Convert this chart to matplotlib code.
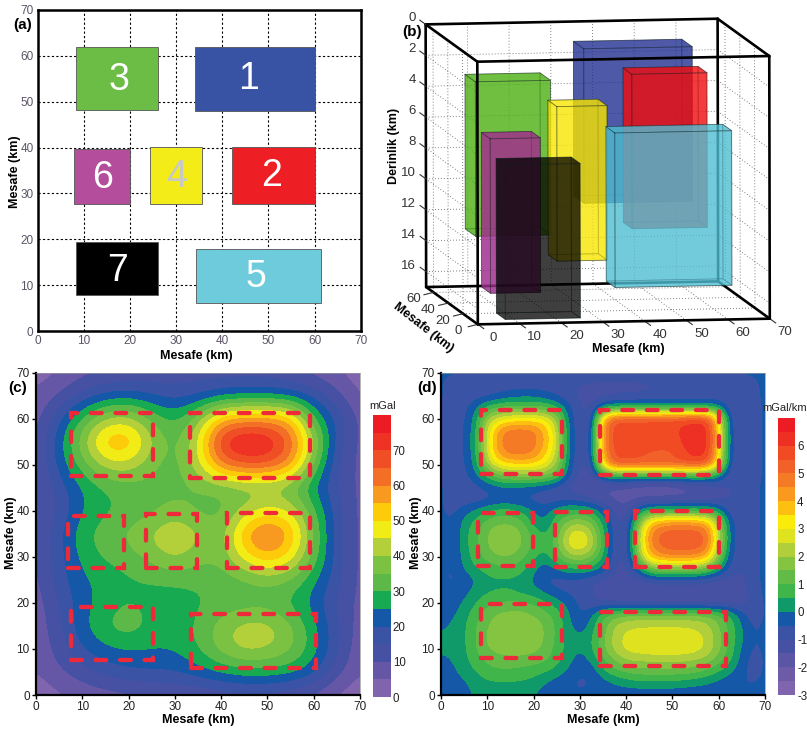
import numpy as np
import matplotlib
matplotlib.use("Agg")
import matplotlib.pyplot as plt
from matplotlib.cm import ScalarMappable
from matplotlib.colors import BoundaryNorm, ListedColormap
from matplotlib.patches import Rectangle

plt.rcParams['font.family'] = ['Liberation Sans', 'DejaVu Sans']

# model blocks: x0, x1, y0, y1 in km (plan view, panel a)
block_names = ['3', '1', '6', '4', '2', '7', '5']
block_colors = ['#6cbd45', '#3953a4', '#b44e9c', '#f3ec19', '#ed1f24', '#000000', '#6dcbdc']
block_text = ['white', 'white', 'white', '#c9c9c4', 'white', 'white', 'white']
block_label_x = [17.6, 45.8, 14.0, 30.0, 50.6, 17.4, 47.3]
block_label_y = [54.7, 54.9, 33.4, 33.6, 33.8, 13.1, 11.8]
blocks_a = [(8.4, 26.0, 48.1, 62.0), (34.1, 60.0, 48.0, 61.9), (7.8, 19.9, 27.8, 39.6), (24.4, 35.7, 27.8, 40.1),
            (42.1, 60.1, 27.8, 40.1), (8.4, 26.1, 7.8, 19.5), (34.3, 61.3, 6.2, 17.8)]
blocks_c = [(7.6, 25.2, 47.6, 61.3), (33.3, 59.2, 47.2, 61.2), (7.0, 19.0, 27.5, 38.9), (23.7, 34.7, 27.5, 39.3),
            (41.2, 59.2, 27.5, 39.6), (7.6, 25.2, 7.6, 19.2), (33.4, 60.4, 5.9, 17.5)]
blocks_d = [(8.6, 26.2, 48.1, 61.9), (34.3, 60.0, 47.7, 61.9), (8.0, 19.9, 28.0, 39.5), (24.7, 35.8, 27.9, 39.8),
            (42.0, 60.1, 27.9, 40.0), (8.6, 26.2, 8.0, 19.7), (34.4, 61.5, 6.4, 18.0)]

# 3D prisms, back to front: x0, x1, y0, y1, top, bottom (km)
prisms = [(34, 60, 48, 62, 1, 11), (8, 26, 48, 62, 3, 13), (42, 60, 28, 40, 2, 12), (8, 20, 28, 40, 6, 16),
          (24, 36, 28, 40, 4, 14), (8, 26, 8, 20, 7, 17), (34, 62, 6, 18, 5, 15)]
prism_colors = ['#212f92', '#4cb010', '#f40b0b', '#a12e8d', '#f8e600', '#000000', '#4fbed3']
prism_alpha = [0.55, 0.55, 0.55, 0.6, 0.55, 0.5, 0.55]

# gravity map (c), mGal, rows from y=70 down to y=0, columns x=0..70, step 5 km
gravity = [
    [2, 5, 8, 9, 10, 11, 12, 12, 12, 12, 12, 10, 8, 5, 2],
    [6, 10, 16, 21, 22, 20, 17, 19, 22, 23, 23, 22, 18, 12, 4],
    [7, 19, 31, 41, 43, 34, 28, 38, 55, 58, 58, 56, 30, 19, 8],
    [9, 23, 39, 56, 57, 41, 32, 45, 73, 80, 78, 66, 42, 17, 8],
    [9, 22, 33, 43, 44, 36, 32, 43, 62, 67, 67, 60, 35, 15, 8],
    [9, 17, 25, 30, 32, 33, 33, 35, 35, 36, 36, 34, 24, 15, 8],
    [9, 15, 25, 29, 31, 33, 37.5, 33, 33, 41, 47, 45, 32, 17, 8],
    [9, 19, 29, 33, 36.5, 41.5, 46, 41.5, 35, 57, 66, 57, 35, 17, 8],
    [9, 18, 27, 31, 33, 37, 42, 37, 36, 48, 56, 49, 34, 17, 8],
    [8, 18, 24, 27, 29, 30, 31, 31, 32, 34, 36, 35, 26, 17, 8],
    [7, 15, 23, 27, 30.5, 28, 27, 29, 31, 31.5, 32, 28, 23, 14, 8],
    [6, 14, 24, 31, 34, 29, 27, 31, 38, 43, 43, 37, 27, 16, 7],
    [6, 12, 20, 24, 25.5, 25, 25.5, 30, 38, 43, 41.5, 37, 28, 16, 6],
    [5, 9, 13, 17, 19, 20, 20, 23, 26, 28, 28, 27, 22, 12, 5],
    [1, 4, 6, 7, 8, 9, 9, 10, 11, 12, 12, 10, 8, 4, 1],
]

# gradient map (d), mGal/km, rows from y=70 down to y=0, columns x=0..70, step 2.5 km
gradient = [
    [-.4] * 29,
    [-.4, -.8, -.9, -.9, -.9, -.8, -.8, -.8, -.8, -.8, -.8, -.9, -1, -1.1, -1.2, -1.2, -1.2, -1.2, -1.1, -1.1, -1, -1, -1, -1, -1, -1, -.9, -.6, -.4],
    [-.4, -.8, -.9, -.8, -.7, -.5, -.3, -.2, -.2, -.4, -.6, -.9, -1.1, -1.2, -1.2, -1.1, -1, -1, -.9, -.9, -.9, -.9, -.9, -.9, -.9, -.9, -.9, -.6, -.4],
    [-.4, -.9, -.7, -.1, .6, .9, 1, 1, 1, .9, .5, -.3, -1, -1.1, -.1, .1, .1, .1, .1, .1, .1, .1, .1, .1, 0, -.9, -1, -.7, -.4],
    [-.4, -.9, -.6, .2, 2, 2.7, 3, 3.1, 3.1, 3, 2, -.1, -1, -1.1, 4, 5.6, 5.6, 5.6, 5.7, 5.7, 5.8, 5.9, 6, 5.9, 3.3, -.8, -1, -.7, -.4],
    [-.4, -.9, -.5, .3, 2.6, 4.3, 4.8, 4.8, 4.7, 3.9, 2.5, 0, -1, -.8, 4.5, 5.8, 5.8, 5.8, 5.8, 5.8, 5.9, 6.1, 6.4, 6.3, 3.7, -.6, -1, -.7, -.4],
    [-.4, -.9, -.5, .4, 2.8, 4.5, 4.9, 4.9, 4.8, 4, 2.7, .1, -1, -.7, 4.5, 5.8, 5.9, 5.9, 5.9, 5.9, 5.8, 6.1, 6.5, 6.4, 3.7, -.6, -1, -.7, -.4],
    [-.4, -.9, -.5, .3, 2.7, 4.3, 4.8, 4.8, 4.6, 3.7, 2.5, 0, -1, -.7, 4.3, 5.7, 5.7, 5.6, 5.4, 5.3, 5.4, 5.9, 6.3, 6.2, 3.6, -.6, -1, -.7, -.4],
    [-.4, -.9, -.6, .2, 2.1, 3.2, 3.5, 3.6, 3.5, 3, 2.1, -.1, -1.1, -1, 3.6, 5.5, 5.5, 5.5, 5.4, 5.4, 5.5, 5.6, 5.7, 5.5, 3, -.8, -1, -.7, -.4],
    [-.4, -.9, -.7, -.1, .6, 1.3, 1.5, 1.6, 1.6, 1.5, 1, -.3, -1.2, -1.3, .2, .4, .5, .5, .5, .5, .5, .5, .5, .4, .1, -1, -1, -.7, -.4],
    [-.4, -.8, -.9, -.7, -.4, -.2, -.1, -.2, -.3, -.5, -.8, -1.1, -1.4, -1.7, -1.7, -1.6, -1.7, -1.9, -2.1, -2.1, -2, -1.8, -1.5, -1.4, -1.2, -1, -.9, -.6, -.4],
    [-.4, -.8, -.9, -.8, -.7, -.5, -.5, -.6, -.7, -.9, -.8, -.7, -.8, -1, -1.3, -1.6, -1.8, -1.6, -1.4, -1.4, -1.4, -1.4, -1.3, -1.3, -1.2, -1, -.9, -.6, -.4],
    [-.4, -.7, -.2, .1, .5, .7, .7, .4, 0, -.2, .3, .6, .6, .4, -.2, -1.1, -1.3, 0, .6, .7, .7, .7, .7, .7, .2, -.8, -.9, -.6, -.4],
    [-.4, -.5, .2, .7, 1.2, 1.4, 1.4, 1.2, .2, -.1, .9, 1.7, 1.9, 1.5, .4, -.9, -1.2, 1.2, 3.6, 4.2, 4.4, 4.4, 4.3, 4, 2, -.4, -.9, -.6, -.4],
    [-.4, -.5, .3, .9, 1.5, 2, 2, 1.5, .9, .4, 1.2, 2.6, 3, 2.3, .7, -.8, -1.2, 2, 4.5, 5.2, 5.4, 5.4, 5.4, 5, 2.5, -.3, -.9, -.6, -.4],
    [-.4, -.5, .3, .9, 1.5, 2, 2, 1.5, .9, .5, 1.3, 2.7, 3.1, 2.4, .8, -.8, -1.2, 2, 4.4, 5.2, 5.4, 5.4, 5.4, 5, 2.4, -.3, -.9, -.6, -.4],
    [-.4, -.5, .2, .8, 1.2, 1.5, 1.5, 1.2, .6, .3, 1, 1.8, 2, 1.6, .5, -.9, -1.2, 1.5, 3.9, 4.4, 4.6, 4.6, 4.5, 4, 1.7, -.5, -.9, -.6, -.4],
    [-.4, -.6, .1, .5, .7, .9, .9, .7, .2, -.4, .1, .5, .6, .4, -.1, -1, -1.2, 0, 1.5, 1.8, 1.8, 1.8, 1.8, 1.5, .4, -.7, -1, -.6, -.4],
    [-.4, -.6, -.4, 0, .4, .4, .4, .3, -.1, -.6, -.7, -.7, -.7, -.9, -1.1, -1.1, -1.2, -1.2, -.9, -.7, -.7, -.7, -.8, -1, -1.1, -1.2, -1.2, -.6, -.4],
    [-.4, -.4, -.2, .2, .4, .5, .5, .3, .2, -.1, -.5, -.6, -.7, -1, -1.3, -1.5, -1.5, -1.5, -1.5, -1.5, -1.5, -1.5, -1.4, -1.4, -1.4, -1.4, -1.3, -.7, -.4],
    [-.4, -.3, .1, .5, .9, 1, 1.1, 1.1, .9, .6, .3, -.2, -.6, -1, -1, -1.1, -1.2, -1.2, -1.3, -1.3, -1.3, -1.4, -1.4, -1.4, -1.3, -1.3, -1.3, -.8, -.4],
    [-.3, -.1, .3, .8, 1.3, 1.6, 1.7, 1.7, 1.5, 1.2, .8, .1, -.6, -.1, .9, 1.3, 1.5, 1.6, 1.6, 1.6, 1.6, 1.6, 1.6, 1.5, 1.1, .6, -.3, -.9, -.4],
    [-.1, .1, .4, 1, 1.5, 1.8, 1.9, 1.9, 1.8, 1.5, .9, .2, -.4, .2, 1.2, 2.1, 2.4, 2.5, 2.5, 2.5, 2.5, 2.5, 2.4, 2.2, 1.6, .8, 0, -.6, -.4],
    [.1, .1, .4, 1, 1.6, 1.9, 1.9, 1.9, 1.8, 1.5, .9, .3, .1, .4, 1.4, 2.2, 2.7, 2.8, 2.9, 2.9, 2.9, 2.9, 2.8, 2.4, 1.7, .9, .1, -.6, -.4],
    [.1, .1, .4, 1, 1.5, 1.7, 1.8, 1.8, 1.7, 1.4, .8, .3, 0, .4, 1.4, 2.2, 2.7, 2.8, 2.9, 2.9, 2.9, 2.9, 2.8, 2.4, 1.7, .8, -.1, -.6, -.4],
    [-.1, 0, .3, .8, 1.1, 1.3, 1.3, 1.3, 1.2, 1.1, .7, .2, -.3, .1, .9, 1.5, 2, 2.1, 2.1, 2.2, 2.2, 2.1, 2, 1.8, 1.2, .6, -.2, -.8, -.4],
    [-.3, -.1, .2, .5, .8, .9, .9, .8, .7, .5, .3, -.1, -.5, -.4, .4, .8, 1, 1.2, 1.2, 1.2, 1.2, 1.2, 1.1, .8, .5, .1, -.4, -.7, -.4],
    [-.4, -.3, -.1, .2, .4, .4, .4, .4, .3, 0, -.3, -.5, -.6, -.5, -.3, 0, .2, .3, .3, .3, .3, .2, .1, 0, -.2, -.4, -.5, -.5, -.4],
    [-.4, -.4, -.2, .1, .2, .2, .2, .2, .05, -.3, -.4, -.4, -.4, -.4, -.4, -.4, -.4, -.4, -.4, -.4, -.4, -.4, -.4, -.4, -.4, -.4, -.4, -.4, -.4],
]

gravity_levels = np.arange(0, 85, 5)
gravity_colors = ['#8064ae', '#6557a5', '#4651a3', '#3a53a4', '#1558a8', '#18aa50', '#5cb947', '#7cc242',
                  '#b3cf3a', '#f2ec16', '#fdcb0a', '#f89a20', '#f36f25', '#f04e24', '#ee3224', '#ed1c24']
gradient_levels = np.arange(-3, 7.5, 0.5)
gradient_colors = ['#8064ae', '#6e5ba8', '#5a55a5', '#4651a3', '#3a53a4', '#1558a8', '#109a6a', '#3fb54a',
                   '#62bb46', '#85c441', '#b1cf3b', '#dfe21e', '#faeb0a', '#fdc010', '#f99a1f', '#f47a25',
                   '#f2612a', '#f04b23', '#ee3024', '#ed1c24']

W, H = 807, 730
fig = plt.figure(figsize=(W / 100, H / 100), dpi=100, facecolor='white')


def axes_px(left, top, right, bottom):
    return fig.add_axes([left / W, 1 - bottom / H, (right - left) / W, (bottom - top) / H])


def style_map_axes(ax, xlabel_px, ylabel_px):
    ax.set_xlim(0, 70)
    ax.set_ylim(0, 70)
    ax.set_xticks(range(0, 80, 10))
    ax.set_yticks(range(0, 80, 10))
    ax.set_xlabel('Mesafe (km)', fontweight='bold', fontsize=9)
    ax.set_ylabel('Mesafe (km)', fontweight='bold', fontsize=9)
    # label centres given in figure pixels
    ax.xaxis.set_label_coords(xlabel_px[0] / W, 1 - xlabel_px[1] / H, transform=fig.transFigure)
    ax.yaxis.set_label_coords(ylabel_px[0] / W, 1 - ylabel_px[1] / H, transform=fig.transFigure)
    ax.xaxis.label.set_va('center')
    ax.yaxis.label.set_va('center')


# panel a
ax = axes_px(37.7, 10, 360.7, 331)
style_map_axes(ax, (196, 356), (15, 172))
ax.grid(True, color='black', linestyle=(0, (2, 2)), linewidth=0.8)
ax.set_axisbelow(True)
ax.tick_params(length=0, labelsize=8.5, labelcolor='#5c5566', pad=3)
for s in ax.spines.values():
    s.set_linewidth(1.8)
for (x0, x1, y0, y1), name, c, tc, lx, ly in zip(blocks_a, block_names, block_colors, block_text, block_label_x, block_label_y):
    ax.add_patch(Rectangle((x0, y0), x1 - x0, y1 - y0, facecolor=c, edgecolor='#555555', linewidth=0.6, zorder=3))
    ax.text(lx, ly, name, color=tc, fontsize=27, ha='center', va='center', zorder=4)
fig.text(23 / W, 1 - 25 / H, '(a)', fontsize=11, fontweight='bold', ha='center', va='center')


def draw_map(box, cbox, values, step, levels, colors, blocks, unit, unit_xy, cticks, label, label_xy, xlabel_px, ylabel_px):
    ax = axes_px(*box)
    z = np.array(values, dtype=float)[::-1]
    cmap = ListedColormap(colors)
    cmap.set_under(colors[0])
    cmap.set_over(colors[-1])
    norm = BoundaryNorm(levels, cmap.N)
    half = step / 2
    # smooth interpolation on the data, then banded by the norm
    ax.imshow(z, origin='lower', extent=(-half, 70 + half, -half, 70 + half), cmap=cmap, norm=norm,
              interpolation='bicubic', interpolation_stage='data', aspect='auto')
    style_map_axes(ax, xlabel_px, ylabel_px)
    for x0, x1, y0, y1 in blocks:
        ax.add_patch(Rectangle((x0, y0), x1 - x0, y1 - y0, fill=False, edgecolor='#ee2a3a', linewidth=3.1,
                               linestyle=(0, (2.5, 3.2)), capstyle='round', zorder=5))
    ax.tick_params(length=3, width=1, labelsize=8.5, labelcolor='#222222', pad=1.5)
    for side in ['top', 'right']:
        ax.spines[side].set_linewidth(0.5)
        ax.spines[side].set_color('#999999')
    for side in ['left', 'bottom']:
        ax.spines[side].set_linewidth(1.6)
    cax = axes_px(*cbox)
    cb = fig.colorbar(ScalarMappable(norm=norm, cmap=cmap), cax=cax, spacing='proportional', ticks=cticks)
    cb.outline.set_visible(False)
    cb.ax.set_yticklabels([str(t) for t in cticks])
    cb.ax.tick_params(length=0, labelsize=8.3, labelcolor='#222222', pad=1.5)
    cb.minorticks_off()
    fig.text(unit_xy[0] / W, 1 - unit_xy[1] / H, unit, fontsize=8, ha='center', va='center', color='#222222')
    fig.text(label_xy[0] / W, 1 - label_xy[1] / H, label, fontsize=11, fontweight='bold', ha='center', va='center')


draw_map((36, 372.7, 360, 695), (373, 415, 390.7, 697), gravity, 5, gravity_levels, gravity_colors, blocks_c,
         'mGal', (383, 406), list(range(0, 80, 10)), '(c)', (18, 388), (198, 720), (11.5, 533))
draw_map((441, 372.7, 765, 695), (778, 418, 795, 695), gradient, 2.5, gradient_levels, gradient_colors, blocks_d,
         'mGal/km', (785, 408), list(range(-3, 7)), '(d)', (427, 388), (603, 720), (416.5, 533))

# panel b: axonometric box drawn in figure pixels
bx = fig.add_axes([0, 0, 1, 1], zorder=-1)
bx.set_xlim(0, W)
bx.set_ylim(H, 0)
bx.axis('off')

P0 = np.array([477.3, 61.7])
EX = np.array([4.171, -0.081])
EY = np.array([-0.738, -0.533])
EZ = np.array([0.03, 15.45])
XMAX, YMAX, ZMAX = 70, 70, 17


def proj(x, y, z):
    return P0 + x * EX + y * EY + z * EZ


def seg(a, b, **kw):
    p, q = proj(*a), proj(*b)
    bx.plot([p[0], q[0]], [p[1], q[1]], **kw)


dots = dict(color='#555555', linewidth=0.6, linestyle=(0, (1, 2.6)), zorder=1)
for z in range(2, 18, 2):
    seg((0, YMAX, z), (XMAX, YMAX, z), **dots)
    seg((0, 0, z), (0, YMAX, z), **dots)
    seg((XMAX, 0, z), (XMAX, YMAX, z), **dots)
for x in range(10, 70, 10):
    seg((x, YMAX, 0), (x, YMAX, ZMAX), **dots)
    seg((x, 0, ZMAX), (x, YMAX, ZMAX), **dots)
for y in range(20, 70, 20):
    seg((0, y, 0), (0, y, ZMAX), **dots)
    seg((XMAX, y, 0), (XMAX, y, ZMAX), **dots)
    seg((0, y, ZMAX), (XMAX, y, ZMAX), **dots)

thick = dict(color='black', linewidth=1.9, solid_capstyle='round')
back_edges = [((0, YMAX, 0), (XMAX, YMAX, 0)), ((0, YMAX, 0), (0, YMAX, ZMAX)), ((XMAX, YMAX, 0), (XMAX, YMAX, ZMAX)),
              ((0, YMAX, ZMAX), (XMAX, YMAX, ZMAX)), ((0, 0, ZMAX), (0, YMAX, ZMAX)), ((XMAX, 0, ZMAX), (XMAX, YMAX, ZMAX)),
              ((0, 0, 0), (0, YMAX, 0)), ((XMAX, 0, 0), (XMAX, YMAX, 0))]
front_edges = [((0, 0, 0), (XMAX, 0, 0)), ((0, 0, 0), (0, 0, ZMAX)), ((XMAX, 0, 0), (XMAX, 0, ZMAX)),
               ((0, 0, ZMAX), (XMAX, 0, ZMAX))]
for a, b in back_edges:
    seg(a, b, zorder=2, **thick)

for k, ((x0, x1, y0, y1, z0, z1), c, al) in enumerate(zip(prisms, prism_colors, prism_alpha)):
    faces = [
        [(x0, y1, z0), (x1, y1, z0), (x1, y1, z1), (x0, y1, z1)],
        [(x0, y0, z1), (x1, y0, z1), (x1, y1, z1), (x0, y1, z1)],
        [(x0, y0, z0), (x0, y1, z0), (x0, y1, z1), (x0, y0, z1)],
        [(x1, y0, z0), (x1, y1, z0), (x1, y1, z1), (x1, y0, z1)],
        [(x0, y0, z0), (x1, y0, z0), (x1, y1, z0), (x0, y1, z0)],
        [(x0, y0, z0), (x1, y0, z0), (x1, y0, z1), (x0, y0, z1)],
    ]
    for f in faces:
        pts = np.array([proj(*p) for p in f])
        bx.fill(pts[:, 0], pts[:, 1], facecolor=c, edgecolor='none', alpha=al, zorder=3 + k * 0.1)
        closed = np.vstack([pts, pts[:1]])
        bx.plot(closed[:, 0], closed[:, 1], color='#102020', alpha=0.4, linewidth=0.6, zorder=3 + k * 0.1)

for a, b in front_edges:
    seg(a, b, zorder=5, **thick)

tick_kw = dict(color='#333333', linewidth=0.8, zorder=2)
label_kw = dict(fontsize=9.5, color='#333333', va='center')
for z in range(0, 18, 2):
    seg((0, YMAX, z), (0, YMAX + 8, z), **tick_kw)
    p = proj(0, YMAX, z)
    bx.text(p[0] - 10, p[1] - 6, str(z), ha='right', **label_kw)
for x in range(0, 80, 10):
    seg((x, 0, ZMAX), (x, -8, ZMAX), **tick_kw)
    p = proj(x, 0, ZMAX)
    bx.text(p[0] + 15, p[1] + 13.5, str(x), ha='center', **label_kw)
for y in range(0, 80, 20):
    seg((0, y, ZMAX), (-3, y - 4, ZMAX), **tick_kw)
    p = proj(0, y, ZMAX)
    bx.text(p[0] - 20, p[1] + 7, str(y), ha='center', **label_kw)

bx.text(628, 349, 'Mesafe (km)', fontsize=9, fontweight='bold', ha='center', va='center')
bx.text(423, 328, 'Mesafe (km)', fontsize=9, fontweight='bold', ha='center', va='center', rotation=-38)
bx.text(393.5, 146, 'Derinlik (km)', fontsize=9, fontweight='bold', ha='center', va='center', rotation=90)
bx.text(412, 32, '(b)', fontsize=11, fontweight='bold', ha='center', va='center')

fig.savefig('out.png', dpi=100)
